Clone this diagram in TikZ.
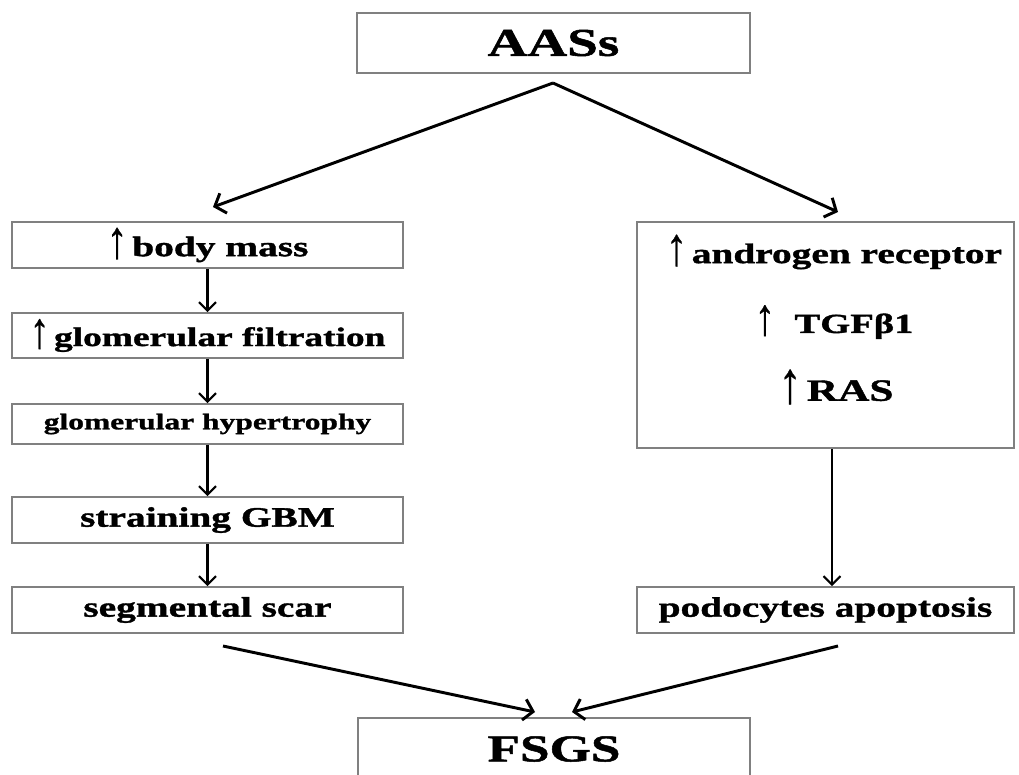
\documentclass[tikz,border=0pt]{standalone}
\usepackage{fontspec}
\usepackage{graphicx}
\setmainfont{Liberation Serif}[FakeStretch=1.4,BoldFeatures={FakeBold=1.3}]
\newfontfamily\arrowfont{Liberation Serif}[FakeBold=0.6]
\usetikzlibrary{arrows.meta}
\newcommand\upar{{\arrowfont\mdseries\raisebox{-0.06em}{\scalebox{1.5}[1.9]{↑}}}}
\newcommand\fsz[1]{\fontsize{#1pt}{#1pt}\selectfont\bfseries}
\begin{document}
\begin{tikzpicture}[x=0.025cm,y=-0.025cm,
  box/.style={draw=black!50,line width=1.4pt,rectangle,inner sep=0pt,align=center},
  lbox/.style={box,minimum width=9.775cm},
  rbx/.style={box,minimum width=9.425cm},
  txt/.style={inner sep=0pt},
  vline/.style={line width=1.5pt,-{Straight Barb[length=6pt,width=12pt,line width=1.5pt]}},
  dline/.style={line width=2.1pt,-{Straight Barb[length=6.5pt,width=15pt,line width=2.1pt]}}]
\clip (0,0) rectangle (1019,775);
\useasboundingbox (0,0) rectangle (1019,775);
\fill[white] (0,0) rectangle (1019,775);

% top and bottom
\node[box,minimum width=9.825cm,minimum height=1.5cm] (aas) at (553.5,43) {\fsz{28}AASs};
\node[box,minimum width=9.8cm,minimum height=1.55cm] (fsgs) at (554,749) {\fsz{27}FSGS};

% left column
\node[lbox,minimum height=1.15cm] (bm) at (207.5,245) {\fsz{20}\upar\,body mass};
\node[lbox,minimum height=1.125cm] (gf) at (207.5,335.5) {\fsz{19}\upar\,glomerular filtration};
\node[lbox,minimum height=1.0cm] (gh) at (207.5,424) {\fsz{16}glomerular hypertrophy};
\node[lbox,minimum height=1.15cm] (gbm) at (207.5,520) {\fsz{20}straining GBM};
\node[lbox,minimum height=1.15cm] (ss) at (207.5,610) {\fsz{20}segmental scar};

% right column
\node[rbx,minimum height=5.65cm] (rb) at (825.5,335) {};
\node[txt] (ar) at (834,252) {\fsz{20}\upar\,androgen receptor};
\node[txt] (tgf) at (834,322) {\fsz{19.6}\upar\ \ TGFβ1};
\node[txt] (ras) at (836,387) {\fsz{22}\upar\,RAS};
\node[rbx,minimum height=1.15cm] (pa) at (825.5,610) {\fsz{20}podocytes apoptosis};

% coordinates for free ends
\coordinate (apex) at (553,83);
\coordinate (tl) at (213,207);
\coordinate (tr) at (838,212);
\coordinate (bl) at (223,646);
\coordinate (br) at (838,646);
\coordinate (el) at (535,712);
\coordinate (er) at (572,712);

% connectors
\draw[dline] (apex) -- (tl);
\draw[dline] (apex) -- (tr);
\draw[vline] (bm.south) -- (gf.north);
\draw[vline] (gf.south) -- (gh.north);
\draw[vline] (gh.south) -- (gbm.north);
\draw[vline] (gbm.south) -- (ss.north);
\draw[vline] ([xshift=6.5*0.025cm]rb.south) -- ([xshift=6.5*0.025cm]pa.north);
\draw[dline] (bl) -- (el);
\draw[dline] (br) -- (er);
\end{tikzpicture}
\end{document}
